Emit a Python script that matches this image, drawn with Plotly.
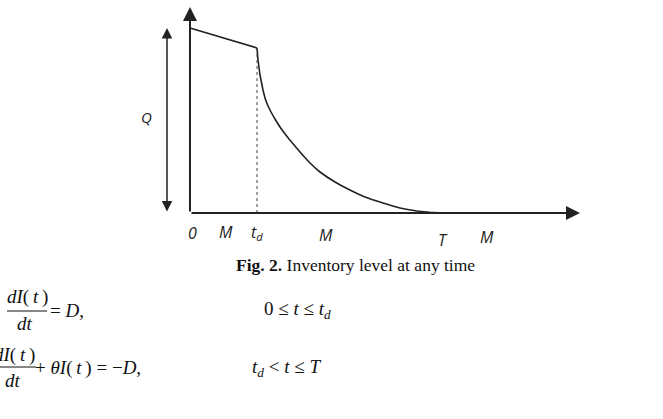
import plotly.graph_objects as go

# ---- data (time t, inventory level I) ----
line_t = [0, 67]
line_I = [185, 165]

curve_t = [67, 67.5, 68, 70, 73, 76, 80, 85, 90, 99, 110, 120, 130, 145, 160, 175, 193, 210, 227, 240, 253]
curve_I = [165, 159, 153, 138, 123, 112, 103, 94, 86, 74, 61, 50, 41, 31, 23, 16, 10, 5, 2, 0.6, 0]

td_value = 67
T_value = 253
Q_value = 185

tick_labels = ["0", "M", "t<sub>d</sub>", "M", "T", "M"]
tick_t = [2, 36, 67, 136, 253, 297]

caption_bold = "Fig. 2."
caption_text = "Inventory level at any time"

fig = go.Figure()

fig.add_trace(go.Scatter(x=line_t, y=line_I, mode="lines",
                         line=dict(color="#222222", width=1.6), hoverinfo="skip"))
fig.add_trace(go.Scatter(x=curve_t, y=curve_I, mode="lines",
                         line=dict(color="#222222", width=1.6, shape="spline", smoothing=0.2),
                         hoverinfo="skip"))
# dotted vertical at t_d
fig.add_trace(go.Scatter(x=[td_value, td_value], y=[0, line_I[1]], mode="lines",
                         line=dict(color="#444444", width=1, dash="dot"), hoverinfo="skip"))

anns = []
# axes arrows
anns.append(dict(x=390, y=0, ax=0, ay=0, xref="x", yref="y", axref="x", ayref="y",
                 showarrow=True, arrowhead=2, arrowsize=1.4, arrowwidth=2, arrowcolor="#222222", text=""))
anns.append(dict(x=0, y=206, ax=0, ay=0, xref="x", yref="y", axref="x", ayref="y",
                 showarrow=True, arrowhead=2, arrowsize=1.4, arrowwidth=2, arrowcolor="#222222", text=""))
# Q double arrow
anns.append(dict(x=-23, y=Q_value, ax=-23, ay=0, xref="x", yref="y", axref="x", ayref="y",
                 showarrow=True, arrowhead=2, startarrowhead=2, arrowside="end+start",
                 arrowsize=1.4, startarrowsize=1.4, arrowwidth=1.5, arrowcolor="#222222", text=""))
anns.append(dict(x=-44, y=96, text="<i>Q</i>", showarrow=False, xref="x", yref="y",
                 font=dict(family="Open Sans", size=15, color="#222222")))

# tick labels
label_y = [-20, -19, -19, -22, -27, -24]
for txt, t, yy in zip(tick_labels, tick_t, label_y):
    anns.append(dict(x=t, y=yy, text="<i>" + txt + "</i>", showarrow=False, xref="x", yref="y",
                     font=dict(family="Open Sans", size=16, color="#222222")))

# caption
anns.append(dict(x=165, y=-52, text="<b>" + caption_bold + "</b> " + caption_text, showarrow=False,
                 xref="x", yref="y", font=dict(family="Liberation Serif", size=17.5, color="#111111")))

serif = dict(family="Liberation Serif", size=19, color="#111111")
th = "\u2009"
num = "<i>dI</i>(" + th + "<i>t</i>" + th + ")"
# equation 1
anns.append(dict(x=-163, y=-84, text=num, showarrow=False, xref="x", yref="y", font=serif))
anns.append(dict(x=-165, y=-110, text="<i>dt</i>", showarrow=False, xref="x", yref="y", font=serif))
anns.append(dict(x=-123, y=-97, text="= <i>D</i>,", showarrow=False, xref="x", yref="y", font=serif))
anns.append(dict(x=107, y=-97, text="0 ≤ <i>t</i> ≤ <i>t</i><sub><i>d</i></sub>", showarrow=False,
                 xref="x", yref="y", font=serif))
# equation 2
anns.append(dict(x=-153, y=-142, xanchor="right", text=num, showarrow=False,
                 xref="x", yref="y", font=serif))
anns.append(dict(x=-177, y=-167, text="<i>dt</i>", showarrow=False, xref="x", yref="y", font=serif))
anns.append(dict(x=-102, y=-155, text="+ <i>θI</i>(" + th + "<i>t</i>" + th + ") = −<i>D</i>,",
                 showarrow=False, xref="x", yref="y", font=serif))
anns.append(dict(x=96, y=-155, text="<i>t</i><sub><i>d</i></sub> < <i>t</i> ≤ <i>T</i>", showarrow=False,
                 xref="x", yref="y", font=serif))

shapes = [
    dict(type="line", x0=-183, x1=-143, y0=-98, y1=-98, xref="x", yref="y",
         line=dict(color="#111111", width=1)),
    dict(type="line", x0=-190, x1=-154, y0=-154, y1=-154, xref="x", yref="y",
         line=dict(color="#111111", width=1)),
]

fig.update_layout(
    width=663, height=419,
    margin=dict(l=0, r=0, t=0, b=0),
    paper_bgcolor="white", plot_bgcolor="white",
    showlegend=False,
    xaxis=dict(range=[-190, 473], visible=False, fixedrange=True),
    yaxis=dict(range=[-206, 213], visible=False, fixedrange=True),
    annotations=anns, shapes=shapes,
)

fig.write_html("out.html")
